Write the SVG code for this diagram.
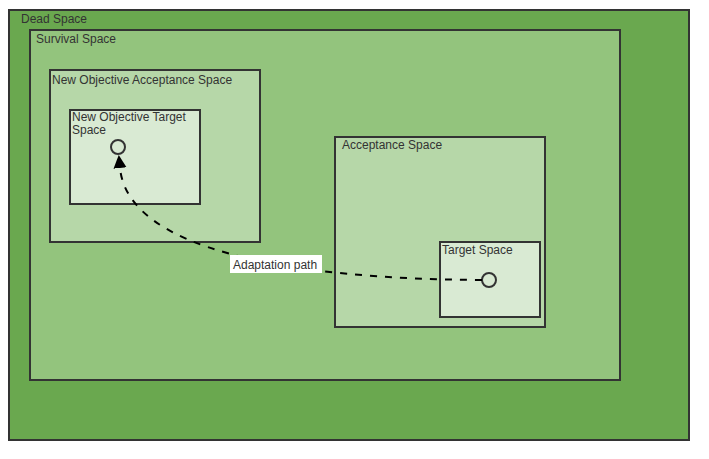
<svg xmlns="http://www.w3.org/2000/svg" width="709" height="459" viewBox="0 0 709 459">
  <style>
    .box { stroke: #333333; stroke-width: 2; }
    .lbl { font-family: "Liberation Sans", Arial, sans-serif; font-size: 12px; fill: #333333; }
    .dead { fill: #6aa84f; }
    .surv { fill: #93c47d; }
    .acc { fill: #b6d7a8; }
    .tgt { fill: #d9ead3; }
    .pt { fill: #d9ead3; stroke: #333333; stroke-width: 2; }
    .path { fill: none; stroke: #000000; stroke-width: 2; stroke-dasharray: 7 8; }
  </style>
  <defs>
    <!-- filled block arrowhead; base sits on the path end -->
    <marker id="block" markerUnits="userSpaceOnUse" markerWidth="14" markerHeight="14" viewBox="0 0 14 14" refX="0" refY="7" orient="auto">
      <path d="M0,0.5 L13,7 L0,13.5 Z" fill="#000000"/>
    </marker>
  </defs>
  <rect width="709" height="459" fill="#ffffff"/>

  <g id="dead-space">
    <rect class="box dead" x="9" y="10" width="680" height="430"/>
    <text class="lbl" x="21" y="23">Dead Space</text>
  </g>

  <g id="survival-space">
    <rect class="box surv" x="30" y="30" width="590" height="350"/>
    <text class="lbl" x="36" y="43">Survival Space</text>
  </g>

  <g id="new-objective-acceptance-space">
    <rect class="box acc" x="50" y="70" width="210" height="172"/>
    <text class="lbl" x="52" y="84">New Objective Acceptance Space</text>
  </g>

  <g id="new-objective-target-space">
    <rect class="box tgt" x="70" y="110" width="130" height="94"/>
    <text class="lbl" x="72" y="121">New Objective Target</text>
    <text class="lbl" x="72" y="134">Space</text>
    <circle class="pt" cx="118" cy="147" r="7"/>
  </g>

  <g id="acceptance-space">
    <rect class="box acc" x="335" y="137" width="210" height="190"/>
    <text class="lbl" x="342" y="149">Acceptance Space</text>
  </g>

  <g id="target-space">
    <rect class="box tgt" x="440" y="242" width="100" height="75"/>
    <text class="lbl" x="442" y="254">Target Space</text>
    <circle class="pt" cx="489" cy="280" r="7"/>
  </g>

  <g id="connectors">
    <path class="path" d="M482,280 C290,279 128,250 120,168" marker-end="url(#block)"/>
    <rect x="230" y="255" width="92" height="18" fill="#ffffff"/>
    <text class="lbl" x="233" y="269">Adaptation path</text>
  </g>
</svg>
